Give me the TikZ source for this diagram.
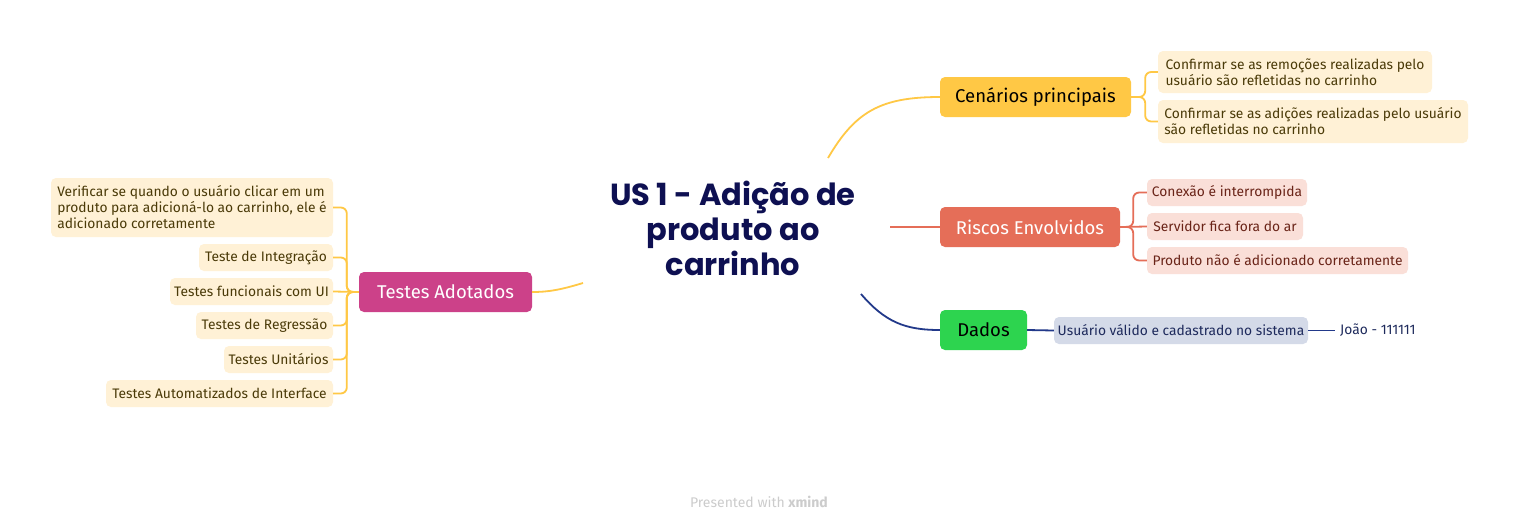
\documentclass[tikz,border=0pt]{standalone}
\usepackage{fontspec}
\setmainfont{Fira Sans}
\newfontfamily\titlefont{Poppins}
\definecolor{titlecol}{HTML}{0E1052}
\definecolor{yel}{HTML}{FFC845}
\definecolor{yellight}{HTML}{FFF1D6}
\definecolor{yeltext}{HTML}{4A3A08}
\definecolor{red}{HTML}{E56E58}
\definecolor{redlight}{HTML}{FADFD8}
\definecolor{redtext}{HTML}{6A2418}
\definecolor{mag}{HTML}{CC4189}
\definecolor{grn}{HTML}{2DD44F}
\definecolor{navy}{HTML}{22398A}
\definecolor{navylight}{HTML}{D4DAE8}
\definecolor{navytext}{HTML}{1E2A5C}
\definecolor{foot}{HTML}{CCCCCC}
\tikzset{
  mainbox/.style={rounded corners=5pt, minimum height=40pt, inner sep=0pt, font=\fontsize{18.5}{20}\selectfont},
  subbox/.style={rounded corners=5pt, inner sep=0pt, font=\fontsize{13.8}{16}\selectfont, align=left},
  link/.style={line width=1.8pt},
}
\begin{document}
\begin{tikzpicture}[x=1pt,y=-1pt]
\useasboundingbox (0,0) rectangle (1519,528);
\fill[white] (0,0) rectangle (1519,528);

% central topic
\node[font=\titlefont\bfseries\fontsize{30.5}{35}\selectfont, text=titlecol, align=center] (title) at (733,228)
  {US 1 - Adição de\\produto ao\\carrinho};
\coordinate (tN) at (828,158);
\coordinate (tE) at (890,227);
\coordinate (tSE) at (861,294);
\coordinate (tW) at (583,283);

% Cenarios principais
\node[mainbox, fill=yel, minimum width=191pt] (cen) at (1035.5,97) {Cenários principais};
\node[subbox, fill=yellight, minimum width=274pt, minimum height=42pt, text=yeltext] (c1) at (1295,72)
  {Confirmar se as remoções realizadas pelo\\usuário são refletidas no carrinho};
\node[subbox, fill=yellight, minimum width=310pt, minimum height=43pt, text=yeltext] (c2) at (1313,121.5)
  {Confirmar se as adições realizadas pelo usuário\\são refletidas no carrinho};
\draw[link, yel] (tN) .. controls (855,112) and (880,97) .. (cen.west);
\draw[link, yel, rounded corners=6pt] (cen.east) -- ++(14,0) |- (c1.west);
\draw[link, yel, rounded corners=6pt] (cen.east) -- ++(14,0) |- (c2.west);

% Riscos Envolvidos
\node[mainbox, fill=red, text=white, minimum width=180pt] (ris) at (1030,227) {Riscos Envolvidos};
\node[subbox, fill=redlight, text=redtext, minimum width=160pt, minimum height=27pt, align=center] (r1) at (1227,192.5) {Conexão é interrompida};
\node[subbox, fill=redlight, text=redtext, minimum width=156pt, minimum height=27pt, align=center] (r2) at (1225,226.5) {Servidor fica fora do ar};
\node[subbox, fill=redlight, text=redtext, minimum width=261pt, minimum height=27pt, align=center] (r3) at (1277.5,260.5) {Produto não é adicionado corretamente};
\draw[link, red] (tE) -- (ris.west);
\draw[link, red, rounded corners=6pt] (ris.east) -- ++(13,0) |- (r1.west);
\draw[link, red] (ris.east) -- (r2.west);
\draw[link, red, rounded corners=6pt] (ris.east) -- ++(13,0) |- (r3.west);

% Dados
\node[mainbox, fill=grn, minimum width=87pt] (dad) at (983.5,330) {Dados};
\node[subbox, fill=navylight, text=navytext, minimum width=254pt, minimum height=27pt, align=center] (d1) at (1181,330.5) {Usuário válido e cadastrado no sistema};
\node[font=\fontsize{13.8}{16}\selectfont, text=navytext, inner sep=0pt, anchor=west] (d2) at (1340,330.5) {João - 111111};
\draw[link, navy] (tSE) .. controls (885,322) and (905,330) .. (dad.west);
\draw[link, navy] (dad.east) -- (d1.west);
\draw[link, navy] (d1.east) -- ([xshift=-5pt]d2.west);

% Testes Adotados
\node[mainbox, fill=mag, text=white, minimum width=173pt] (tes) at (445.5,292) {Testes Adotados};
\node[subbox, fill=yellight, text=yeltext, minimum width=282pt, minimum height=59pt] (t1) at (192,207.5)
  {Verificar se quando o usuário clicar em um\\produto para adicioná-lo ao carrinho, ele é\\adicionado corretamente};
\node[subbox, fill=yellight, text=yeltext, minimum width=134pt, minimum height=27pt, align=center] (t2) at (266,257.5) {Teste de Integração};
\node[subbox, fill=yellight, text=yeltext, minimum width=163pt, minimum height=27pt, align=center] (t3) at (251.5,291.5) {Testes funcionais com UI};
\node[subbox, fill=yellight, text=yeltext, minimum width=137pt, minimum height=27pt, align=center] (t4) at (264.5,325.5) {Testes de Regressão};
\node[subbox, fill=yellight, text=yeltext, minimum width=109pt, minimum height=27pt, align=center] (t5) at (278.5,359.5) {Testes Unitários};
\node[subbox, fill=yellight, text=yeltext, minimum width=227pt, minimum height=27pt, align=center] (t6) at (219.5,393.5) {Testes Automatizados de Interface};
\draw[link, yel] (tW) .. controls (560,290) and (548,292) .. (tes.east);
\foreach \c in {t1,t2,t4,t5,t6}{
  \draw[link, yel, rounded corners=6pt] (tes.west) -- ++(-12,0) |- (\c.east);
}
\draw[link, yel] (tes.west) -- (t3.east);

% footer
\node[font=\fontsize{14}{16}\selectfont, text=foot] (footer) at (759,502) {Presented with \textbf{xmind}};
\end{tikzpicture}
\end{document}
